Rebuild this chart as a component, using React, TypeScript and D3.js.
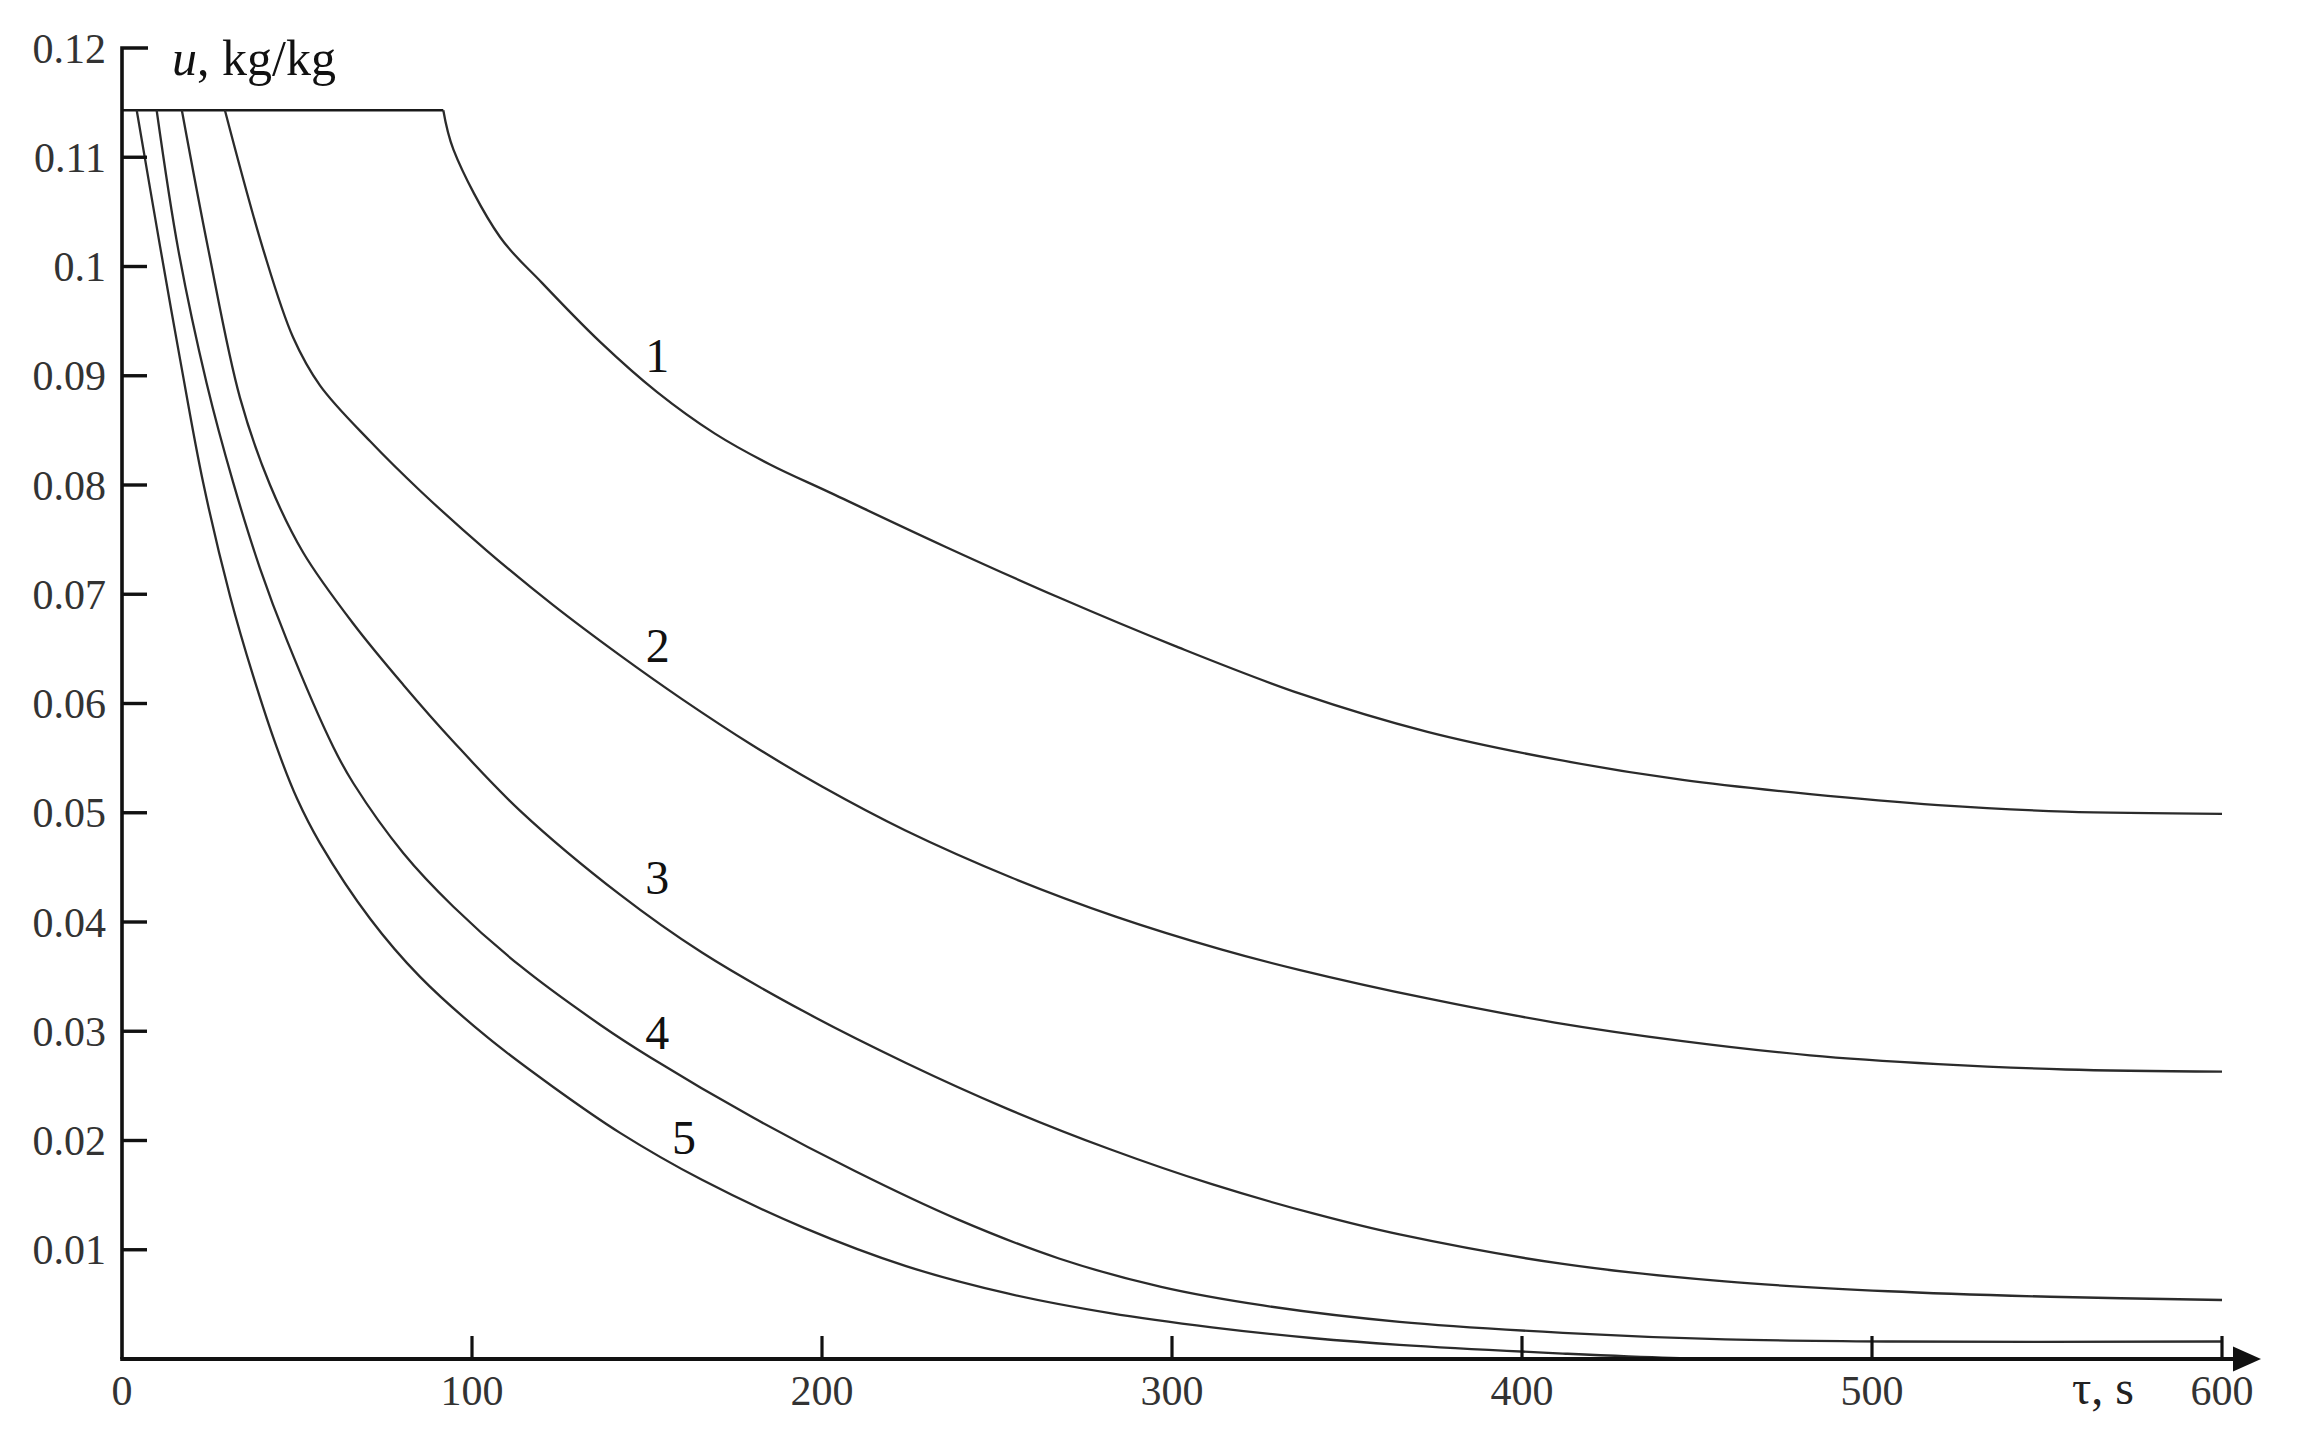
import React from 'react';
import * as d3 from 'd3';

// plateau (initial moisture content) shared by all curves
const U0 = 0.1143;

// series: [tau (s), u (kg/kg)], each starting where it leaves the plateau
const curve1: [number, number][] = [
  [91.8, U0], [94.7, 0.1107], [108, 0.1027], [120, 0.0985], [136.6, 0.0931],
  [152.9, 0.0885], [169.4, 0.0847], [185, 0.0819], [202.3, 0.0793], [234.9, 0.0744],
  [267.7, 0.0697], [300.6, 0.0653], [336.6, 0.0609], [373, 0.0574], [409.4, 0.0549],
  [445.9, 0.053], [482.3, 0.0517], [518.9, 0.0507], [555.3, 0.0501], [600, 0.0499],
];
const curve2: [number, number][] = [
  [29.4, U0], [40.4, 0.1015], [48.9, 0.0935], [56.6, 0.0891], [70.9, 0.084],
  [85.1, 0.0795], [104.2, 0.074], [123.2, 0.069], [142.3, 0.0644], [160, 0.0604],
  [180, 0.0562], [200, 0.0524], [223.7, 0.0484], [253.9, 0.0441], [283.9, 0.0405],
  [314, 0.0375], [336.6, 0.0356], [373, 0.033], [409.4, 0.0308], [445.9, 0.0291],
  [482.3, 0.0278], [518.9, 0.027], [555.3, 0.0265], [600, 0.0263],
];
const curve3: [number, number][] = [
  [17.1, U0], [24.7, 0.1015], [33.7, 0.088], [42.3, 0.08], [51.8, 0.0738],
  [66.1, 0.0673], [80.4, 0.0617], [94.7, 0.0565], [113.7, 0.0502], [142.3, 0.0425],
  [165.7, 0.0372], [194.9, 0.0318], [224, 0.0271], [253, 0.0229], [282.3, 0.0192],
  [311.4, 0.016], [340.6, 0.0133], [365, 0.0114], [411.7, 0.0087], [458, 0.0071],
  [504.6, 0.0062], [550.9, 0.0057], [600, 0.0054],
];
const curve4: [number, number][] = [
  [9.9, U0], [16.1, 0.1015], [24.2, 0.0893], [31.8, 0.0802], [39.4, 0.0724],
  [47.1, 0.0658], [60.4, 0.056], [66.1, 0.0527], [80.4, 0.0463], [94.7, 0.0414],
  [113.7, 0.036], [136.6, 0.0306], [151, 0.0276], [180.3, 0.0221], [209.4, 0.0172],
  [238.6, 0.0128], [267.7, 0.0092], [296.9, 0.0066], [326, 0.0049], [365, 0.0034],
  [411.7, 0.0024], [458, 0.0018], [504.6, 0.0016], [600, 0.0016],
];
const curve5: [number, number][] = [
  [4.2, U0], [10.9, 0.1018], [16.6, 0.0915], [23.2, 0.0802], [30.9, 0.0698],
  [37.5, 0.0625], [44.2, 0.056], [50, 0.0513], [56.6, 0.0472], [70.9, 0.0403],
  [85.1, 0.035], [104.2, 0.0295], [123.2, 0.0249], [142.3, 0.0207], [165.7, 0.0164],
  [194.9, 0.012], [224, 0.0085], [253, 0.006], [282.3, 0.0042], [311.4, 0.0029],
  [340.6, 0.0019], [365, 0.0013], [411.7, 0.0005], [442.6, 0.0001], [470, 0],
];
const series = [curve1, curve2, curve3, curve4, curve5];

const curveLabels = ['1', '2', '3', '4', '5'];
const curveLabelPos: [number, number][] = [
  [152.9, 0.0919], [153.1, 0.0653], [152.9, 0.0441], [152.9, 0.0299], [160.6, 0.0203],
];

const yTicks = [0.01, 0.02, 0.03, 0.04, 0.05, 0.06, 0.07, 0.08, 0.09, 0.1, 0.11, 0.12];
const yTickLabels = ['0.01', '0.02', '0.03', '0.04', '0.05', '0.06', '0.07', '0.08', '0.09', '0.1', '0.11', '0.12'];
const xTicks = [100, 200, 300, 400, 500, 600];
const xTickLabelValues = [0, 100, 200, 300, 400, 500, 600];

export default function App() {
  const W = 2303;
  const H = 1455;
  const x = d3.scaleLinear().domain([0, 600]).range([122, 2222]);
  const y = d3.scaleLinear().domain([0, 0.12]).range([1359, 48]);
  const line = d3
    .line<[number, number]>()
    .x((d) => x(d[0]))
    .y((d) => y(d[1]))
    .curve(d3.curveCatmullRom.alpha(0.5));
  const flat = d3.line<[number, number]>().x((d) => x(d[0])).y((d) => y(d[1]));
  const plateau: [number, number][] = [[0, U0], [curve1[0][0], U0]];

  const font = '"Liberation Serif", "Times New Roman", serif';
  const x0 = x(0);
  const yBase = y(0);

  return (
    <svg
      width={W}
      height={H}
      style={{ position: 'absolute', left: 0, top: 0, background: '#fff' }}
      fontFamily={font}
    >
      <rect width={W} height={H} fill="#fff" />
      {/* curves */}
      <path d={flat(plateau) || ''} fill="none" stroke="#1a1a1a" strokeWidth={2.6} />
      {series.map((s, i) => (
        <path key={i} d={line(s) || ''} fill="none" stroke="#2b2b2b" strokeWidth={2.3} />
      ))}
      {/* y axis */}
      <path
        d={`M${x0},${yBase} V${y(0.12)} H${x0 + 26}`}
        fill="none"
        stroke="#111"
        strokeWidth={3.6}
      />
      {yTicks.slice(0, -1).map((t) => (
        <line key={t} x1={x0} x2={x0 + 25} y1={y(t)} y2={y(t)} stroke="#111" strokeWidth={3.4} />
      ))}
      {yTicks.map((t, i) => (
        <text
          key={t}
          x={106}
          y={y(t)}
          dy="0.35em"
          textAnchor="end"
          fontSize={42}
          fill="#333"
        >
          {yTickLabels[i]}
        </text>
      ))}
      {/* x axis */}
      <line x1={x0 - 1.8} x2={2240} y1={yBase} y2={yBase} stroke="#111" strokeWidth={4.2} />
      <path
        d={`M${2233},${yBase - 12.5} L${2261},${yBase} L${2233},${yBase + 12.5} Z`}
        fill="#111"
      />
      {xTicks.map((t) => (
        <line key={t} x1={x(t)} x2={x(t)} y1={yBase} y2={yBase - 23} stroke="#111" strokeWidth={3.2} />
      ))}
      {xTickLabelValues.map((t) => (
        <text key={t} x={x(t)} y={1405} textAnchor="middle" fontSize={42} fill="#333">
          {String(t)}
        </text>
      ))}
      {/* axis titles */}
      <text x={172} y={75} fontSize={50} fill="#111">
        <tspan fontStyle="italic">u</tspan>
        <tspan>, kg/kg</tspan>
      </text>
      <text x={2072} y={1404} fontSize={48} fill="#222">
        τ, s
      </text>
      {/* curve labels */}
      {curveLabels.map((lab, i) => (
        <text
          key={lab}
          x={x(curveLabelPos[i][0])}
          y={y(curveLabelPos[i][1])}
          dy="0.35em"
          textAnchor="middle"
          fontSize={48}
          fill="#111"
        >
          {lab}
        </text>
      ))}
    </svg>
  );
}
